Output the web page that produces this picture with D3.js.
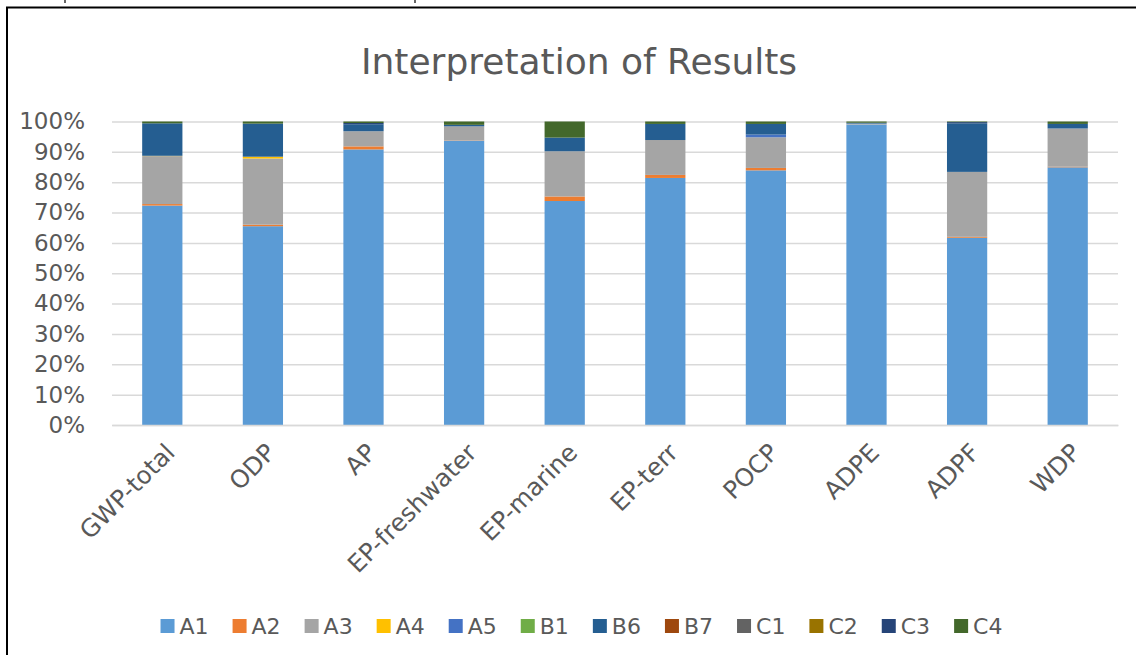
<!DOCTYPE html>
<html>
<head>
<meta charset="utf-8">
<script src="https://cdn.jsdelivr.net/npm/d3@7"></script>
<style>
  html, body { margin: 0; padding: 0; background: #fff; }
  svg { display: block; font-family: "DejaVu Sans", sans-serif; }
</style>
</head>
<body>
<div id="chart"></div>
<script>
const categories = ['GWP-total', 'ODP', 'AP', 'EP-freshwater', 'EP-marine', 'EP-terr', 'POCP', 'ADPE', 'ADPF', 'WDP'];
const seriesNames = ['A1', 'A2', 'A3', 'A4', 'A5', 'B1', 'B6', 'B7', 'C1', 'C2', 'C3', 'C4'];
const seriesColors = ['#5B9BD5', '#ED7D31', '#A5A5A5', '#FFC000', '#4472C4', '#70AD47', '#255E91', '#9E480E', '#636363', '#997300', '#264478', '#43682B'];

// share of each life-cycle stage, in %
const A1 = [72.3, 65.5, 90.8, 93.7, 73.8, 81.4, 83.9, 99.0, 61.7, 84.9];
const A2 = [0.5, 0.5, 1.0, 0.1, 1.5, 1.0, 0.8, 0.0, 0.3, 0.2];
const A3 = [15.8, 21.8, 5.0, 4.6, 14.9, 11.5, 10.1, 0.3, 21.4, 12.6];
const A4 = [0.1, 0.6, 0, 0, 0, 0, 0, 0, 0, 0];
const A5 = [0, 0, 0, 0, 0, 0, 0.9, 0, 0, 0];
const B1 = [0, 0, 0, 0, 0, 0, 0, 0, 0, 0];
const B6 = [10.7, 10.9, 2.3, 0.5, 4.5, 5.3, 3.5, 0.3, 16.0, 1.5];
const B7 = [0, 0, 0, 0, 0, 0, 0, 0, 0, 0];
const C1 = [0, 0, 0, 0, 0, 0, 0, 0, 0, 0];
const C2 = [0, 0, 0, 0, 0, 0, 0, 0, 0, 0];
const C3 = [0, 0, 0.4, 0, 0, 0, 0, 0, 0.4, 0];
const C4 = [0.6, 0.7, 0.5, 1.1, 5.3, 0.8, 0.8, 0.4, 0.2, 0.8];

const yTicks = [0, 10, 20, 30, 40, 50, 60, 70, 80, 90, 100];
const chartTitle = 'Interpretation of Results';

const seriesValues = [A1, A2, A3, A4, A5, B1, B6, B7, C1, C2, C3, C4];

const W = 1136, H = 655;
const plot = { left: 112, right: 1118, top: 121.5, bottom: 425 };
const textColor = '#595959';

const rows = categories.map((c, i) => {
    const row = { category: c };
    seriesNames.forEach((s, j) => { row[s] = seriesValues[j][i]; });
    return row;
});

const svg = d3.select('#chart').append('svg')
    .attr('width', W)
    .attr('height', H);

svg.append('rect').attr('width', W).attr('height', H).attr('fill', '#fff');

// cut-off text above the frame
[65, 415].forEach(x => {
    svg.append('line')
        .attr('x1', x).attr('x2', x)
        .attr('y1', 0).attr('y2', 3)
        .attr('stroke', '#333').attr('stroke-width', 1.5);
});

// frame
svg.append('rect')
    .attr('x', 7).attr('y', 7.5)
    .attr('width', W + 20).attr('height', H + 20)
    .attr('fill', 'none')
    .attr('stroke', '#000')
    .attr('stroke-width', 2);

svg.append('text')
    .attr('x', 579).attr('y', 74)
    .attr('text-anchor', 'middle')
    .attr('font-size', 36)
    .attr('fill', textColor)
    .text(chartTitle);

const x = d3.scaleBand()
    .domain(categories)
    .range([plot.left, plot.right])
    .paddingInner(0.6)
    .paddingOuter(0.3);

const y = d3.scaleLinear()
    .domain([0, 100])
    .range([plot.bottom, plot.top]);

const color = d3.scaleOrdinal().domain(seriesNames).range(seriesColors);

// gridlines + y labels
const yAxis = d3.axisLeft(y)
    .tickValues(yTicks)
    .tickSize(-(plot.right - plot.left))
    .tickPadding(27)
    .tickFormat(d => d + '%');

const gy = svg.append('g')
    .attr('transform', `translate(${plot.left},0)`)
    .call(yAxis);
gy.select('.domain').remove();
gy.selectAll('.tick line').attr('stroke', '#D9D9D9').attr('stroke-width', 1.5);
gy.selectAll('.tick text').attr('fill', textColor).attr('font-size', 23).attr('font-family', '"DejaVu Sans", sans-serif');

const stack = d3.stack().keys(seriesNames);
const layers = stack(rows);

svg.append('g')
    .selectAll('g')
    .data(layers)
    .join('g')
    .attr('fill', d => color(d.key))
    .selectAll('rect')
    .data(d => d.filter(p => p[1] - p[0] > 0))
    .join('rect')
    .attr('x', d => x(d.data.category))
    .attr('width', x.bandwidth())
    .attr('y', d => y(d[1]))
    .attr('height', d => y(d[0]) - y(d[1]));

// category labels, rotated
const xAxis = d3.axisBottom(x).tickSize(0).tickPadding(0);
const gx = svg.append('g')
    .attr('transform', `translate(0,${plot.bottom})`)
    .call(xAxis);
gx.select('.domain').attr('stroke', '#D9D9D9').attr('stroke-width', 1.5);
gx.selectAll('.tick text')
    .attr('fill', textColor)
    .attr('font-size', 24.5)
    .attr('font-family', '"DejaVu Sans", sans-serif')
    .attr('text-anchor', 'end')
    .attr('dy', '0.7em')
    .attr('transform', 'translate(2,17) rotate(-45)');

// legend
const legend = svg.append('g').attr('transform', 'translate(0,626)');
const items = legend.selectAll('g')
    .data(seriesNames)
    .join('g');
items.append('rect')
    .attr('y', -7)
    .attr('width', 14).attr('height', 14)
    .attr('fill', d => color(d));
items.append('text')
    .attr('x', 19)
    .attr('dy', '0.36em')
    .attr('font-size', 22)
    .attr('fill', textColor)
    .text(d => d);

let offset = 0;
const gaps = [];
items.each(function () {
    const tw = d3.select(this).select('text').node().getComputedTextLength();
    gaps.push(offset);
    offset += 19 + tw + 24;
});
const totalW = offset - 24;
const startX = 581.5 - totalW / 2;
items.attr('transform', (d, i) => `translate(${startX + gaps[i]},0)`);
</script>
</body>
</html>
